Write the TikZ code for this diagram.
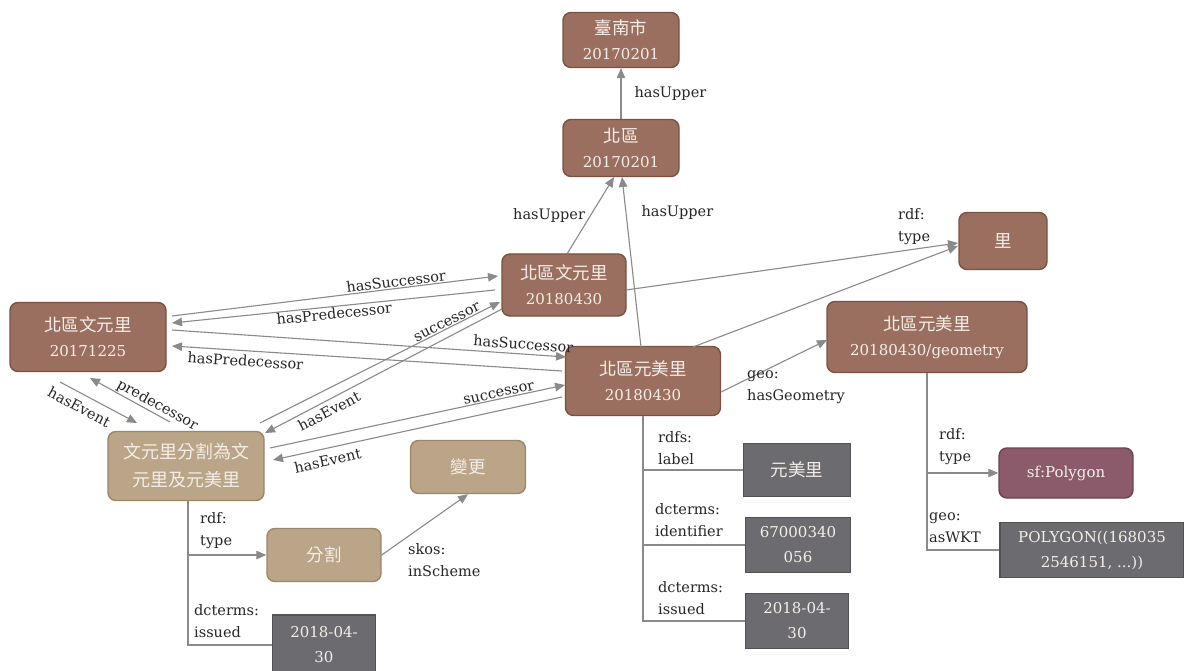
\documentclass[tikz,border=0pt]{standalone}
\usepackage{fontspec}
\setmainfont{DejaVu Serif}
\newfontfamily\cjk{Noto Sans CJK TC}
\usetikzlibrary{arrows.meta,calc}

\definecolor{resfill}{HTML}{9B6F5F}
\definecolor{resborder}{HTML}{7A5243}
\definecolor{evtfill}{HTML}{BBA588}
\definecolor{evtborder}{HTML}{9C8667}
\definecolor{litfill}{HTML}{6C6B6F}
\definecolor{litborder}{HTML}{525156}
\definecolor{clsfill}{HTML}{8C5B6B}
\definecolor{clsborder}{HTML}{6E4252}
\definecolor{nodetext}{HTML}{F4EEE8}
\definecolor{wire}{HTML}{8A8A8C}
\definecolor{lbltext}{HTML}{262626}

% Chinese text inside the boxes
\newcommand\zh[1]{{\cjk\fontsize{17.5}{25}\selectfont #1}}

\begin{document}
\begin{tikzpicture}[x=1pt,y=-1pt,
  res/.style={draw=resborder, fill=resfill, rounded corners=8pt, line width=1.4pt,
    text=nodetext, align=center, inner sep=2pt, font=\fontsize{15}{25}\selectfont},
  evt/.style={res, draw=evtborder, fill=evtfill},
  lit/.style={res, rounded corners=0pt, draw=litborder, fill=litfill},
  cls/.style={res, draw=clsborder, fill=clsfill},
  arc/.style={draw=wire, line width=1.1pt, -{Triangle[length=10pt,width=8.5pt]}},
  link/.style={draw=wire, line width=1.1pt},
  lbl/.style={font=\fontsize{14.5}{22}\selectfont, text=lbltext, inner sep=1pt},
  tag/.style={lbl, align=left, anchor=west}]

\useasboundingbox (0,0) rectangle (1184,671);
\fill[white] (0,0) rectangle (1184,671);

% resources
\node[res, minimum width=116pt, minimum height=55pt] (tainan) at (621,40) {\zh{臺南市}\\20170201};
\node[res, minimum width=116pt, minimum height=57pt] (beiqu) at (621,148) {\zh{北區}\\20170201};
\node[res, minimum width=124pt, minimum height=62pt] (wy18) at (564,285) {\zh{北區文元里}\\20180430};
\node[res, minimum width=156pt, minimum height=69pt] (wy17) at (88,337) {\zh{北區文元里}\\20171225};
\node[res, minimum width=155pt, minimum height=69pt] (ym18) at (643,381) {\zh{北區元美里}\\20180430};
\node[res, minimum width=200pt, minimum height=71pt] (geom) at (927,337) {\zh{北區元美里}\\20180430/geometry};
\node[res, minimum width=88pt, minimum height=57pt] (li) at (1003,241) {\zh{里}};

% event and its concepts
\node[evt, minimum width=156pt, minimum height=69pt, font=\cjk\fontsize{18}{28}\selectfont] (event) at (186,466) {文元里分割為文\\元里及元美里};
\node[evt, minimum width=115pt, minimum height=53pt] (change) at (468,467) {\zh{變更}};
\node[evt, minimum width=114pt, minimum height=53pt] (split) at (324,555) {\zh{分割}};

% literals
\node[lit, minimum width=103pt, minimum height=60pt] (date1) at (324,645) {2018-04-\\30};
\node[lit, minimum width=107pt, minimum height=53pt] (lit1) at (797,470) {\zh{元美里}};
\node[lit, minimum width=105pt, minimum height=55pt] (lit2) at (798,545) {67000340\\056};
\node[lit, minimum width=103pt, minimum height=55pt] (lit3) at (797,621) {2018-04-\\30};
\node[lit, minimum width=184pt, minimum height=55pt] (wkt) at (1092,550) {POLYGON((168035\\2546151, ...))};
\node[cls, minimum width=134pt, minimum height=50pt] (poly) at (1066,473) {sf:Polygon};

% administrative hierarchy
\draw[arc] (beiqu.north) -- node[lbl, pos=.5, right=12pt] {hasUpper} (tainan.south);
\draw[arc] ($(wy18)+(3,-31)$) -- node[lbl, pos=.5, left=4pt] {hasUpper} ($(beiqu)+(-7,29)$);
\draw[arc] ($(ym18)+(-2,-34)$) -- node[lbl, pos=.79, right=14pt] {hasUpper} ($(beiqu)+(1,29)$);

% types
\draw[arc] ($(wy18)+(62,5)$) -- ($(li)+(-45,2)$);
\draw[arc] ($(ym18)+(50,-34)$) -- ($(li)+(-45,5)$);
\node[tag] (tli) at (897,227) {rdf:\\type};

% geometry
\draw[arc] ($(ym18)+(78,11)$) -- ($(geom)+(-100,3)$);
\node[tag] (tgeo) at (746,387) {geo:\\hasGeometry};

% succession between versions
\draw[arc] ($(wy17)+(84,-21)$) -- node[lbl, sloped, pos=.69, above] {hasSuccessor} ($(wy18)+(-66,-9)$);
\draw[arc] ($(wy18)+(-69,5)$) -- node[lbl, sloped, pos=.5, below] {hasPredecessor} ($(wy17)+(84,-14)$);
\draw[arc] ($(wy17)+(84,-7)$) -- node[lbl, sloped, pos=.89, above=3pt] {hasSuccessor} ($(ym18)+(-77,-24)$);
\draw[arc] ($(ym18)+(-81,-10)$) -- node[lbl, sloped, pos=.81, below=3pt] {hasPredecessor} ($(wy17)+(84,9)$);

% event links
\draw[arc] ($(wy17)+(-28,45)$) -- node[lbl, sloped, pos=.33, below=6pt] {hasEvent} ($(event)+(-49,-43)$);
\draw[arc] ($(event)+(-16,-44)$) -- node[lbl, sloped, pos=.21, above] {predecessor} ($(wy17)+(2,41)$);
\draw[arc] ($(event)+(74,-43)$) -- node[lbl, sloped, pos=.79, above] {successor} ($(wy18)+(-64,17)$);
\draw[arc] ($(wy18)+(-62,24)$) -- node[lbl, sloped, pos=.75, below=3pt] {hasEvent} ($(event)+(79,-33)$);
\draw[arc] ($(event)+(84,-18)$) -- node[lbl, sloped, pos=.78, above] {successor} ($(ym18)+(-78,4)$);
\draw[arc] ($(ym18)+(-81,16)$) -- node[lbl, sloped, pos=.82, below=5pt] {hasEvent} ($(event)+(87,-6)$);

% event properties
\coordinate (etrunk) at ($(event.south)+(2,0)$);
\draw[arc] (etrunk) |- (split.west);
\draw[link] (etrunk) |- (date1.west);
\node[tag] (tevt) at (199,531) {rdf:\\type};
\node[tag] (tevd) at (193,621) {dcterms:\\issued};
\draw[arc] (split.east) -- (change.south);
\node[tag] (tsch) at (407,560) {skos:\\inScheme};

% literal properties of the new village
\draw[link] (ym18.south) |- (lit1.west);
\draw[link] (ym18.south) |- (lit2.west);
\draw[link] (ym18.south) |- (lit3.west);
\node[tag] (tlab) at (657,448) {rdfs:\\label};
\node[tag] (tid) at (654,520) {dcterms:\\identifier};
\node[tag] (tiss) at (657,598) {dcterms:\\issued};

% geometry properties
\draw[arc] (geom.south) |- (poly.west);
\draw[link] (geom.south) |- (wkt.west);
\node[tag] (tpt) at (938,447) {rdf:\\type};
\node[tag] (twkt) at (928,528) {geo:\\asWKT};

\end{tikzpicture}
\end{document}
